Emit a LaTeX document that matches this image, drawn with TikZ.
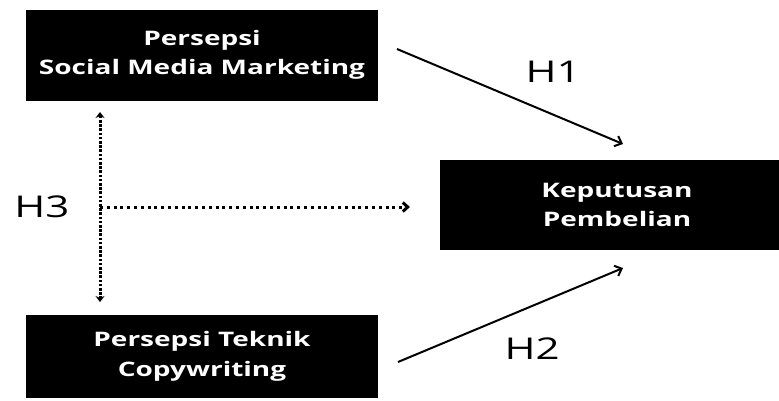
\documentclass[tikz,border=0pt]{standalone}
\usepackage{fontspec}
\setmainfont{Open Sans}[FakeStretch=1.4]
\usepackage{tikz}
\usetikzlibrary{positioning, arrows.meta}

\begin{document}
\begin{tikzpicture}[x=1pt, y=-1pt,
    block/.style={rectangle, fill=black, text=white, align=center, inner sep=0pt,
                  font=\bfseries\fontsize{20}{29.5}\selectfont},
    arrow/.style={-{Straight Barb[length=6pt, width=11pt]}, line width=2pt},
    dotline/.style={line width=3pt, dash pattern=on 2.6pt off 1.6pt},
    dotarrow/.style={-{Straight Barb[length=5pt, width=9pt]}, line width=3pt,
                     dash pattern=on 3pt off 3.8pt},
    hyp/.style={font=\fontsize{30}{30}\selectfont}
]
    \useasboundingbox (0,0) rectangle (779,400);

    % Social media marketing
    \node[block, minimum width=352pt, minimum height=91pt] (smm) at (202,55)
        {Persepsi\\Social Media Marketing};

    % Copywriting
    \node[block, minimum width=352pt, minimum height=83pt] (copy) at (202,356.5)
        {Persepsi Teknik\\Copywriting};

    % Purchase decision
    \node[block, minimum width=354pt, minimum height=90pt] (kp) at (617,205)
        {Keputusan\\Pembelian};

    % Free ends
    \coordinate (h1s) at (397,49);
    \coordinate (h1e) at (623,144);
    \coordinate (h2s) at (398,362);
    \coordinate (h2e) at (623,268);
    \coordinate (vtop) at (100,112);
    \coordinate (vbot) at (100,302);
    \coordinate (hmid) at (100,207);
    \coordinate (hend) at (410,207);

    % H1
    \draw[arrow] (h1s) -- (h1e);
    \node[hyp] (h1) at (553,72) {H1};

    % H2
    \draw[arrow] (h2s) -- (h2e);
    \node[hyp] (h2) at (532,349) {H2};

    % H3
    \draw[dotline, {Stealth[length=6pt, width=9pt]}-{Stealth[length=6pt, width=9pt]}] (vtop) -- (vbot);
    \draw[dotarrow] (hmid) -- (hend);
    \node[hyp] (h3) at (42,207) {H3};

\end{tikzpicture}
\end{document}
